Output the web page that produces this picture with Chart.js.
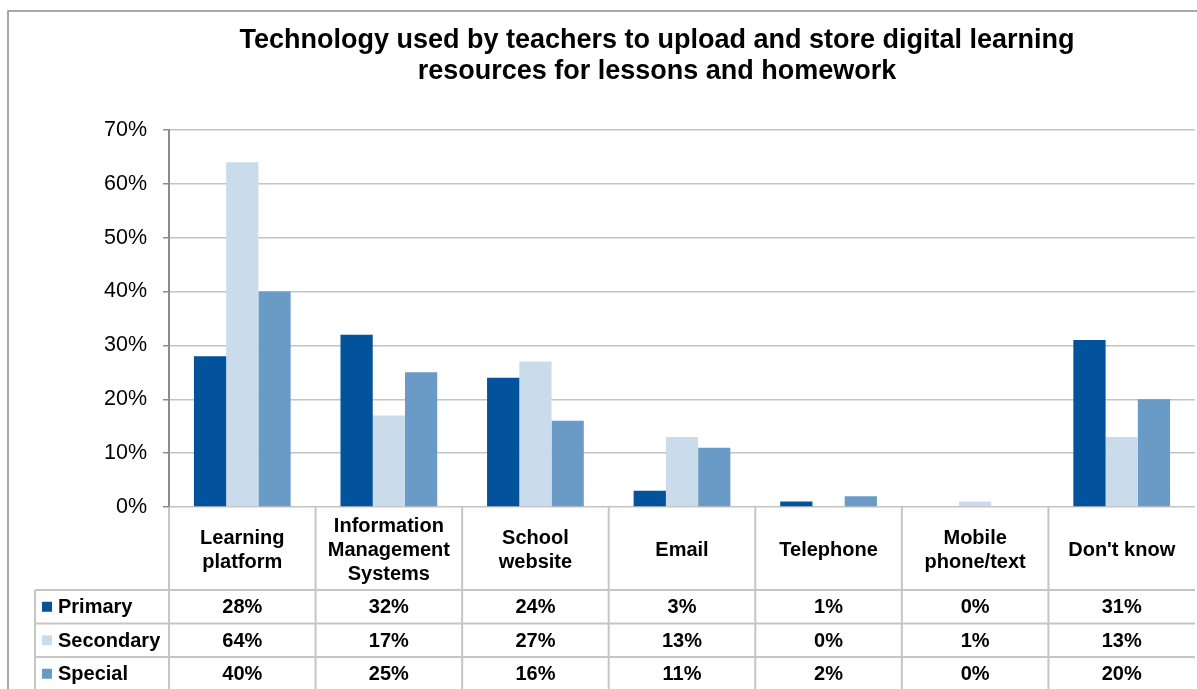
<!DOCTYPE html>
<html>
<head>
<meta charset="utf-8">
<script src="https://cdn.jsdelivr.net/npm/chart.js@4/dist/chart.umd.min.js"></script>
<style>
  html, body { margin: 0; padding: 0; background: #fff; }
  #wrap { width: 1197px; height: 689px; position: relative; }
</style>
</head>
<body>
<div id="wrap"><canvas id="chart"></canvas></div>
<script>
// --- data ---
const categories = [
    ['Learning', 'platform'],
    ['Information', 'Management', 'Systems'],
    ['School', 'website'],
    ['Email'],
    ['Telephone'],
    ['Mobile', 'phone/text'],
    ["Don't know"]
];
const primary = [28, 32, 24, 3, 1, 0, 31];
const secondary = [64, 17, 27, 13, 0, 1, 13];
const special = [40, 25, 16, 11, 2, 0, 20];
const seriesNames = ['Primary', 'Secondary', 'Special'];
const titleLines = [
    'Technology used by teachers to upload and store digital learning',
    'resources for lessons and homework'
];

const colors = ['#02529c', '#cadcec', '#6a9bc6'];
const FONT = '"Liberation Sans", Arial, sans-serif';
const tableLine = '#c6c6c6';

// frame, title and data table drawn around the chart area
const extrasPlugin = {
    id: 'extras',
    afterDraw(chart) {
        const ctx = chart.ctx;
        const area = chart.chartArea;
        const x = chart.scales.x;
        const colW = (area.right - area.left) / categories.length;

        ctx.save();

        // outer frame
        ctx.strokeStyle = '#8c8c8c';
        ctx.lineWidth = 1.5;
        ctx.beginPath();
        ctx.moveTo(8, 689);
        ctx.lineTo(8, 11);
        ctx.lineTo(1197, 11);
        ctx.stroke();

        // title
        ctx.fillStyle = '#000';
        ctx.font = 'bold 27px ' + FONT;
        ctx.textAlign = 'center';
        ctx.textBaseline = 'middle';
        titleLines.forEach((t, i) => ctx.fillText(t, 657, 41 + i * 31));

        // table grid
        const headBottom = 590;
        const rowH = 33.5;
        const legendLeft = 35;
        ctx.strokeStyle = tableLine;
        ctx.lineWidth = 2;
        ctx.beginPath();
        for (let i = 0; i < categories.length; i++) {
            const bx = area.left + i * colW;
            ctx.moveTo(bx, area.bottom);
            ctx.lineTo(bx, 689);
        }
        ctx.moveTo(legendLeft, headBottom);
        ctx.lineTo(legendLeft, 689);
        for (let r = 0; r < 3; r++) {
            const y = headBottom + r * rowH;
            ctx.moveTo(legendLeft, y);
            ctx.lineTo(area.right, y);
        }
        ctx.stroke();

        // category headers
        ctx.fillStyle = '#000';
        ctx.font = 'bold 20px ' + FONT;
        ctx.textAlign = 'center';
        categories.forEach((lines, i) => {
            const cx = x.getPixelForValue(i);
            const midY = (area.bottom + headBottom) / 2 + 2;
            const startY = midY - (lines.length - 1) * 12;
            lines.forEach((l, j) => ctx.fillText(l, cx, startY + j * 24));
        });

        // rows: legend key, series name, values
        const rows = [primary, secondary, special];
        rows.forEach((vals, r) => {
            const cy = headBottom + r * rowH + rowH / 2 + 1;
            ctx.fillStyle = colors[r];
            ctx.fillRect(42, cy - 6, 10, 10);
            ctx.fillStyle = '#000';
            ctx.textAlign = 'left';
            ctx.fillText(seriesNames[r], 58, cy);
            ctx.textAlign = 'center';
            vals.forEach((v, i) => ctx.fillText(v + '%', x.getPixelForValue(i), cy));
        });

        ctx.restore();
    }
};

new Chart(document.getElementById('chart'), {
    type: 'bar',
    data: {
        labels: categories.map(c => c.join(' ')),
        datasets: [
            { label: seriesNames[0], data: primary, backgroundColor: colors[0] },
            { label: seriesNames[1], data: secondary, backgroundColor: colors[1] },
            { label: seriesNames[2], data: special, backgroundColor: colors[2] }
        ]
    },
    options: {
        responsive: true,
        maintainAspectRatio: false,
        animation: false,
        layout: { padding: { top: 130, bottom: 182, left: 0, right: 2 } },
        plugins: {
            legend: { display: false },
            title: { display: false },
            tooltip: { enabled: false }
        },
        datasets: {
            bar: { categoryPercentage: 0.66, barPercentage: 1.0, borderWidth: 0 }
        },
        scales: {
            x: { display: false },
            y: {
                min: 0,
                max: 70,
                afterFit: (scale) => { scale.width = 169; },
                ticks: {
                    stepSize: 10,
                    padding: 16,
                    color: '#000',
                    font: { family: FONT, size: 21.5 },
                    callback: v => v + '%'
                },
                grid: {
                    color: '#c4c4c4',
                    lineWidth: 1.5,
                    tickLength: 6,
                    tickColor: '#8c8c8c'
                },
                border: { color: '#8c8c8c', width: 2 }
            }
        }
    },
    plugins: [extrasPlugin]
});
</script>
</body>
</html>
